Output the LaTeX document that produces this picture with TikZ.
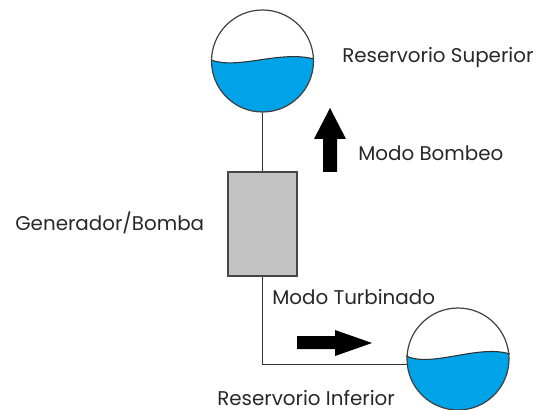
\documentclass[tikz,border=0pt]{standalone}
\usepackage{fontspec}
\setmainfont{Poppins}
\begin{document}
\begin{tikzpicture}[x=0.75pt,y=0.75pt,yscale=-1,xscale=1]
\tikzset{
  reservoir/.style={draw={rgb, 255:red, 64; green, 64; blue, 64 }, line width=0.9pt, circle, minimum size=76.5pt, inner sep=0pt},
  water/.style={fill={rgb, 255:red, 0; green, 162; blue, 232 }},
  machine/.style={draw={rgb, 255:red, 70; green, 70; blue, 70 }, line width=1pt, fill={rgb, 255:red, 195; green, 195; blue, 195 }, minimum width=51.75pt, minimum height=78pt, inner sep=0pt},
  label/.style={anchor=base west, inner sep=0pt, text={rgb, 255:red, 40; green, 40; blue, 40 }, font=\fontsize{14.9}{17}\selectfont},
  pipe/.style={draw={rgb, 255:red, 50; green, 50; blue, 50 }, line width=0.8pt}
}
\useasboundingbox (0,0) rectangle (540,410);
%Water Upper
\begin{scope}
\clip (262.5,61) circle [radius=51];
\fill [water] (211,60) .. controls (238,70) and (280,50) .. (314,59) -- (314,113) -- (211,113) -- cycle ;
\end{scope}
%Water Lower
\begin{scope}
\clip (458,359) circle [radius=51];
\fill [water] (406,356) .. controls (432,368) and (478,344) .. (510,354) -- (510,411) -- (406,411) -- cycle ;
\end{scope}
%Wave Lines
\draw [pipe] (211,60) .. controls (238,70) and (280,50) .. (314,59) ;
\draw [pipe] (406,356) .. controls (432,368) and (478,344) .. (510,354) ;
%Shapes
\node [reservoir] (upper) at (262.5,61) {};
\node [reservoir] (lower) at (458,359) {};
\node [machine] (gen) at (262.5,224) {};
%Straight Lines
\draw [pipe] (upper.south) -- (gen.north) ;
\draw [pipe] (gen.south) |- (lower.186) ;
%Block Arrows
\fill (323,172) -- (323,139) -- (314,139) -- (330,108) -- (346,139) -- (337,139) -- (337,172) -- cycle ;
\fill (297,336) -- (335,336) -- (335,330) -- (372,343) -- (335,356) -- (335,349) -- (297,349) -- cycle ;
%Labels
\node [label] (supLabel) at (342,63) {Reservorio Superior};
\node [label] (pumpLabel) at (358,161) {Modo Bombeo};
\node [label] (genLabel) at (15,230) {Generador/Bomba};
\node [label] (turbLabel) at (272,304) {Modo Turbinado};
\node [label] (infLabel) at (217,405) {Reservorio Inferior};
\end{tikzpicture}
\end{document}
